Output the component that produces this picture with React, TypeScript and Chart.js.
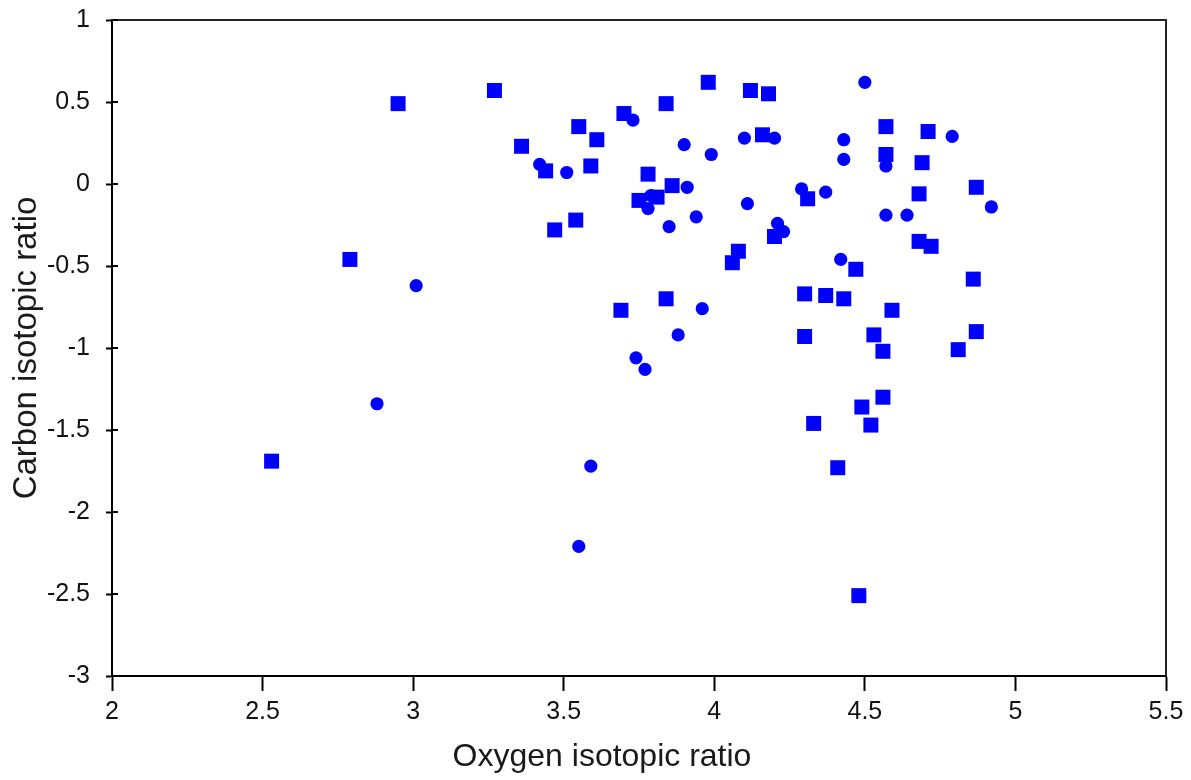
import React, { useEffect, useRef } from "react";
import { Chart, registerables } from "chart.js";

Chart.register(...registerables);

// Square-marker series (Oxygen, Carbon)
const squareX = [2.53, 2.79, 2.95, 3.27, 3.36, 3.44, 3.47, 3.54, 3.55, 3.59, 3.61, 3.69, 3.70, 3.75, 3.78, 3.81, 3.84, 3.84, 3.86, 3.98, 4.06, 4.08, 4.12, 4.16, 4.18, 4.20, 4.30, 4.30, 4.31, 4.33, 4.37, 4.41, 4.43, 4.47, 4.48, 4.49, 4.52, 4.53, 4.56, 4.56, 4.57, 4.57, 4.59, 4.68, 4.68, 4.69, 4.71, 4.72, 4.81, 4.86, 4.87, 4.87];
const squareY = [-1.69, -0.46, 0.49, 0.57, 0.23, 0.08, -0.28, -0.22, 0.35, 0.11, 0.27, -0.77, 0.43, -0.10, 0.06, -0.08, 0.49, -0.70, -0.01, 0.62, -0.48, -0.41, 0.57, 0.30, 0.55, -0.32, -0.67, -0.93, -0.09, -1.46, -0.68, -1.73, -0.70, -0.52, -2.51, -1.36, -1.47, -0.92, -1.02, -1.30, 0.35, 0.18, -0.77, -0.06, -0.35, 0.13, 0.32, -0.38, -1.01, -0.58, -0.02, -0.90];

// Circle-marker series (Oxygen, Carbon)
const circleX = [2.88, 3.01, 3.42, 3.51, 3.55, 3.59, 3.73, 3.74, 3.77, 3.78, 3.79, 3.85, 3.88, 3.90, 3.91, 3.94, 3.96, 3.99, 4.10, 4.11, 4.20, 4.21, 4.23, 4.29, 4.37, 4.42, 4.43, 4.43, 4.50, 4.57, 4.57, 4.57, 4.64, 4.79, 4.92];
const circleY = [-1.34, -0.62, 0.12, 0.07, -2.21, -1.72, 0.39, -1.06, -1.13, -0.15, -0.07, -0.26, -0.92, 0.24, -0.02, -0.20, -0.76, 0.18, 0.28, -0.12, 0.28, -0.24, -0.29, -0.03, -0.05, -0.46, 0.27, 0.15, 0.62, 0.17, 0.11, -0.19, -0.19, 0.29, -0.14];

const xRange = [2, 5.5];
const yRange = [-3, 1];
const tickStep = 0.5;

const xTitle = "Oxygen isotopic ratio";
const yTitle = "Carbon isotopic ratio";

const BLUE = "#0000ff";
const FONT = "'Liberation Sans', Arial, Helvetica, sans-serif";

const fmt = (v: any) => String(Number(v));

export default function App() {
  const ref = useRef<HTMLCanvasElement>(null);

  useEffect(() => {
    if (!ref.current) return;

    const framePlugin = {
      id: "frame",
      afterDraw(chart: any) {
        const { ctx, chartArea } = chart;
        const { left, right, top, bottom } = chartArea;
        ctx.save();
        ctx.strokeStyle = "#222";
        ctx.lineWidth = 2;
        ctx.beginPath();
        ctx.moveTo(left, top);
        ctx.lineTo(right, top);
        ctx.lineTo(right, bottom);
        ctx.stroke();
        const ys = chart.scales.y;
        ctx.strokeStyle = "#000";
        ctx.beginPath();
        ys.ticks.forEach((t: any) => {
          const py = ys.getPixelForValue(t.value);
          ctx.moveTo(left, py);
          ctx.lineTo(left + 6, py);
        });
        ctx.stroke();
        ctx.fillStyle = "#1a1a1a";
        ctx.font = `32px ${FONT}`;
        ctx.textAlign = "center";
        ctx.textBaseline = "middle";
        ctx.fillText(xTitle, 602, 757);
        ctx.restore();
      },
    };

    const chart = new Chart(ref.current, {
      type: "scatter",
      data: {
        datasets: [
          {
            label: "squares",
            data: squareX.map((x, i) => ({ x, y: squareY[i] })),
            pointStyle: "rect",
            pointRadius: 10.6,
            pointHoverRadius: 10.6,
            backgroundColor: BLUE,
            borderColor: BLUE,
            borderWidth: 0,
          },
          {
            label: "circles",
            data: circleX.map((x, i) => ({ x, y: circleY[i] })),
            pointStyle: "circle",
            pointRadius: 6.6,
            pointHoverRadius: 6.6,
            backgroundColor: BLUE,
            borderColor: BLUE,
            borderWidth: 0,
          },
        ],
      },
      options: {
        responsive: false,
        animation: false,
        layout: { padding: { left: 0, top: 20, right: 25, bottom: 0 } },
        plugins: {
          legend: { display: false },
          tooltip: { enabled: false },
        },
        scales: {
          x: {
            type: "linear",
            min: xRange[0],
            max: xRange[1],
            afterFit: (s: any) => {
              s.height = 104;
              s.paddingLeft = 0;
              s.paddingRight = 0;
            },
            ticks: {
              stepSize: tickStep,
              color: "#111",
              font: { family: FONT, size: 25 },
              padding: 6,
              maxRotation: 0,
              callback: fmt,
            },
            grid: {
              drawOnChartArea: false,
              drawTicks: true,
              tickLength: 15,
              tickColor: "#000",
              tickWidth: 2,
            },
            border: { display: true, color: "#000", width: 2 },
            title: { display: false },
          },
          y: {
            type: "linear",
            min: yRange[0],
            max: yRange[1],
            afterFit: (s: any) => {
              s.width = 112;
              s.paddingTop = 0;
              s.paddingBottom = 0;
            },
            ticks: {
              stepSize: tickStep,
              color: "#111",
              font: { family: FONT, size: 25 },
              padding: 16,
              callback: fmt,
            },
            grid: {
              drawOnChartArea: false,
              drawTicks: true,
              tickLength: 6,
              tickColor: "#000",
              tickWidth: 2,
            },
            border: { display: true, color: "#000", width: 2 },
            title: {
              display: true,
              text: yTitle,
              color: "#1a1a1a",
              font: { family: FONT, size: 33 },
              padding: { top: 7, bottom: 0 },
            },
          },
        },
      },
      plugins: [framePlugin],
    });

    return () => chart.destroy();
  }, []);

  return (
    <div style={{ position: "fixed", left: 0, top: 0, width: 1191, height: 780, background: "#fff" }}>
      <canvas ref={ref} width={1191} height={780} style={{ display: "block" }} />
    </div>
  );
}
